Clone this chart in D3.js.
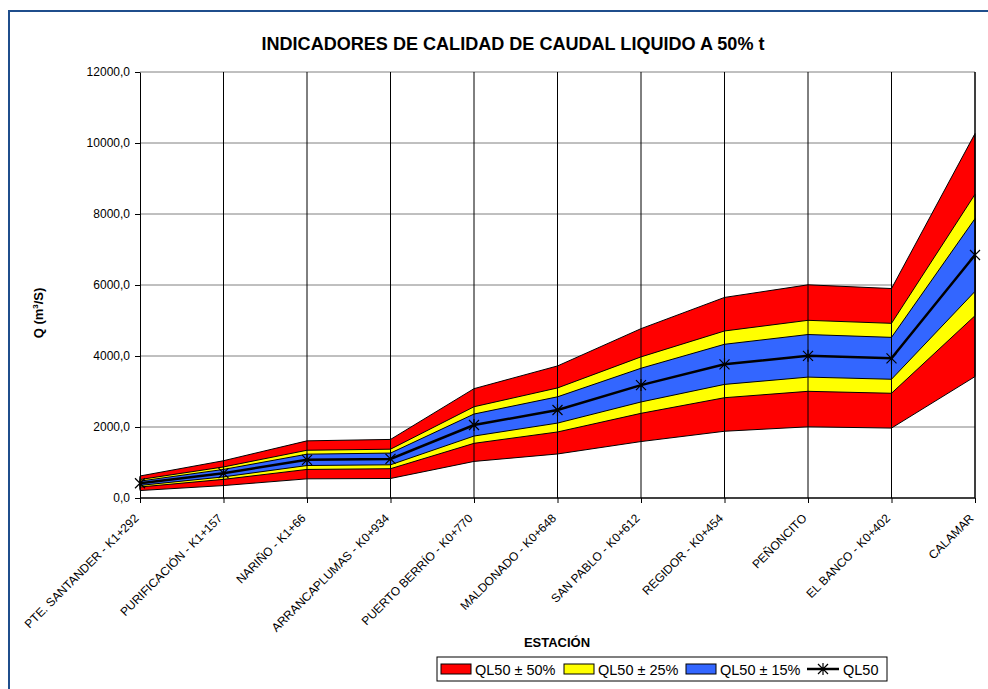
<!DOCTYPE html>
<html>
<head>
<meta charset="utf-8">
<script src="https://cdn.jsdelivr.net/npm/d3@7"></script>
<style>
  body { margin: 0; background: #fff; }
  svg { font-family: "Liberation Sans", Arial, sans-serif; }
</style>
</head>
<body>
<div id="chart"></div>
<script>
// Stations (x categories)
const estaciones = ["PTE. SANTANDER - K1+292", "PURIFICACIÓN - K1+157", "NARIÑO - K1+66",
  "ARRANCAPLUMAS - K0+934", "PUERTO BERRÍO - K0+770", "MALDONADO - K0+648",
  "SAN PABLO - K0+612", "REGIDOR - K0+454", "PEÑONCITO", "EL BANCO - K0+402", "CALAMAR"];

// QL50 (m3/s)
const ql50 = [415, 700, 1075, 1100, 2055, 2480, 3180, 3765, 4005, 3935, 6845];

// band limits
const sup50 = [620, 1050, 1610, 1650, 3080, 3720, 4770, 5650, 6005, 5900, 10265];
const inf50 = [210, 350, 540, 550, 1030, 1240, 1590, 1880, 2005, 1970, 3420];
const sup25 = [520, 875, 1345, 1375, 2570, 3100, 3975, 4705, 5005, 4920, 8555];
const inf25 = [310, 525, 805, 825, 1540, 1860, 2385, 2825, 3005, 2950, 5135];
const sup15 = [475, 805, 1235, 1265, 2365, 2850, 3655, 4330, 4605, 4525, 7870];
const inf15 = [355, 595, 915, 935, 1745, 2110, 2705, 3200, 3405, 3345, 5820];

const yTicks = [0, 2000, 4000, 6000, 8000, 10000, 12000];

const width = 988, height = 689;
const margin = {top: 72, right: 13, bottom: 191, left: 140};

const svg = d3.select("#chart").append("svg")
  .attr("width", width).attr("height", height);

// outer frame (blue)
svg.append("path")
  .attr("d", `M9,${height} V11 H${width}`)
  .attr("fill", "none").attr("stroke", "#1f4e8c").attr("stroke-width", 2);

const x = d3.scalePoint().domain(estaciones).range([margin.left, width - margin.right]);
const y = d3.scaleLinear().domain([0, 12000]).range([height - margin.bottom, margin.top]);

const fmt = d3.formatLocale({decimal: ",", thousands: "", grouping: [3], currency: ["", ""]}).format(".1f");

// horizontal gridlines (behind)
svg.append("g").selectAll("line").data(yTicks.slice(1)).join("line")
  .attr("x1", margin.left).attr("x2", width - margin.right)
  .attr("y1", d => y(d)).attr("y2", d => y(d))
  .attr("stroke", "#808080").attr("stroke-width", 1);

// bands
const bands = [
  {sup: sup50, inf: inf50, color: "#ff0000", label: "QL50 ± 50%"},
  {sup: sup25, inf: inf25, color: "#ffff00", label: "QL50 ± 25%"},
  {sup: sup15, inf: inf15, color: "#3366ff", label: "QL50 ± 15%"}
];

const area = d3.area()
  .x((d, i) => x(estaciones[i]))
  .y0(d => y(d[0]))
  .y1(d => y(d[1]));

bands.forEach(b => {
  svg.append("path")
    .datum(b.inf.map((v, i) => [v, b.sup[i]]))
    .attr("d", area)
    .attr("fill", b.color)
    .attr("stroke", "#000").attr("stroke-width", 1);
});

// vertical gridlines (drawn over areas)
svg.append("g").selectAll("line").data(estaciones.slice(1)).join("line")
  .attr("x1", d => x(d)).attr("x2", d => x(d))
  .attr("y1", margin.top).attr("y2", height - margin.bottom)
  .attr("stroke", "#000").attr("stroke-width", 1);

// QL50 line
const line = d3.line().x((d, i) => x(estaciones[i])).y(d => y(d));
svg.append("path").datum(ql50).attr("d", line)
  .attr("fill", "none").attr("stroke", "#000").attr("stroke-width", 2.5);

const star = "M-5,-5L5,5M-5,5L5,-5M0,-6V6";
svg.append("g").selectAll("path").data(ql50).join("path")
  .attr("transform", (d, i) => `translate(${x(estaciones[i])},${y(d)})`)
  .attr("d", star).attr("stroke", "#000").attr("stroke-width", 1.2).attr("fill", "none");

// axes
const yAxis = svg.append("g").attr("transform", `translate(${margin.left},0)`)
  .call(d3.axisLeft(y).tickValues(yTicks).tickSize(5).tickSizeOuter(0).tickFormat(fmt));
yAxis.selectAll("text").attr("font-size", 12).attr("fill", "#000").attr("font-family", "Liberation Sans, Arial").attr("dx", -2);
yAxis.selectAll("line, path").attr("stroke", "#000");

const xAxis = svg.append("g").attr("transform", `translate(0,${height - margin.bottom})`)
  .call(d3.axisBottom(x).tickSize(5).tickSizeOuter(0));
xAxis.select(".domain").attr("d", `M${margin.left},0H${width - margin.right}`).attr("stroke", "#000").attr("stroke-width", 1.5);
xAxis.selectAll("line").attr("stroke", "#000");
xAxis.selectAll("text")
  .attr("font-size", 12).attr("fill", "#000").attr("font-family", "Liberation Sans, Arial")
  .attr("text-anchor", "end")
  .attr("y", 0).attr("dy", 0)
  .attr("transform", "translate(-1,21) rotate(-45)");

// right border of plot
svg.append("line")
  .attr("x1", width - margin.right).attr("x2", width - margin.right)
  .attr("y1", margin.top).attr("y2", height - margin.bottom)
  .attr("stroke", "#000");

// title and axis labels
svg.append("text").attr("x", 513).attr("y", 50).attr("text-anchor", "middle")
  .attr("font-weight", "bold").attr("font-size", 17.5).attr("textLength", 503)
  .attr("lengthAdjust", "spacingAndGlyphs")
  .text("INDICADORES DE CALIDAD DE CAUDAL LIQUIDO A 50% t");

svg.append("text").attr("x", 557).attr("y", 647).attr("text-anchor", "middle")
  .attr("font-weight", "bold").attr("font-size", 13).text("ESTACIÓN");

const yl = svg.append("text").attr("transform", "translate(43,313) rotate(-90)")
  .attr("text-anchor", "middle").attr("font-weight", "bold").attr("font-size", 13);
yl.append("tspan").text("Q (m");
yl.append("tspan").attr("font-size", 8).attr("dy", -5).text("3");
yl.append("tspan").attr("dy", 5).text("/S)");

// legend
const lg = svg.append("g").attr("transform", "translate(437,657)");
lg.append("rect").attr("width", 450).attr("height", 24)
  .attr("fill", "#fff").attr("stroke", "#000").attr("stroke-width", 1);
const itemX = [4, 127, 249];
bands.forEach((b, i) => {
  lg.append("rect").attr("x", itemX[i]).attr("y", 7).attr("width", 30).attr("height", 10)
    .attr("fill", b.color).attr("stroke", "#000");
  lg.append("text").attr("x", itemX[i] + 34).attr("y", 18).attr("font-size", 14.5).text(b.label);
});
lg.append("line").attr("x1", 370).attr("x2", 402).attr("y1", 12).attr("y2", 12)
  .attr("stroke", "#000").attr("stroke-width", 2.5);
lg.append("path").attr("transform", "translate(386,12)").attr("d", star)
  .attr("stroke", "#000").attr("stroke-width", 1.2);
lg.append("text").attr("x", 406).attr("y", 18).attr("font-size", 14.5).text("QL50");
</script>
</body>
</html>
